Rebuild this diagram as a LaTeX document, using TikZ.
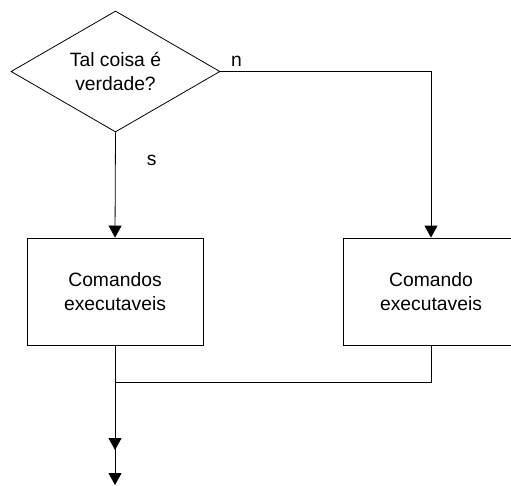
\documentclass[tikz,border=0pt]{standalone}
\usepackage{fontspec}
\setmainfont{Liberation Sans}
\usetikzlibrary{shapes.geometric,arrows.meta}

\tikzset{
  base/.style={draw=black, line width=0.8pt, inner sep=0pt, align=center,
    font=\fontsize{19.3}{23.5}\selectfont},
  decision/.style={base, shape=diamond, minimum width=209pt, minimum height=121pt, aspect=1.73},
  process/.style={base, shape=rectangle, minimum width=176pt, minimum height=107pt},
  flow/.style={draw=black, line width=0.8pt, -{Triangle[length=12pt,width=13pt]}},
  plain/.style={draw=black, line width=0.8pt},
  tag/.style={inner sep=0pt, font=\fontsize{19.3}{23.5}\selectfont}
}

\begin{document}
\begin{tikzpicture}[x=1pt, y=-1pt]
  \useasboundingbox (0,0) rectangle (511,485);

  % decision and the two branches
  \node[decision] (dec) at (115.5,71.5) {Tal coisa é\\verdade?};
  \node[process] (yes) at (115,291.5) {Comandos\\executaveis};
  \node[process] (no)  at (431,291.5) {Comando\\executaveis};

  % join and exits
  \coordinate (join) at (115,382);
  \coordinate (out1) at (115,450);
  \coordinate (out2) at (115,485);

  \draw[flow] (dec.south) -- node[tag, pos=0.27, right=31pt] {s} (yes.north);
  \draw[flow] (dec.east) -| node[tag, pos=0.038, above=5pt] {n} (no.north);

  \draw[flow] (yes.south) -- (out1);
  \draw[plain] (no.south) |- (join);
  \draw[flow] (join) -- (out2);
\end{tikzpicture}
\end{document}
